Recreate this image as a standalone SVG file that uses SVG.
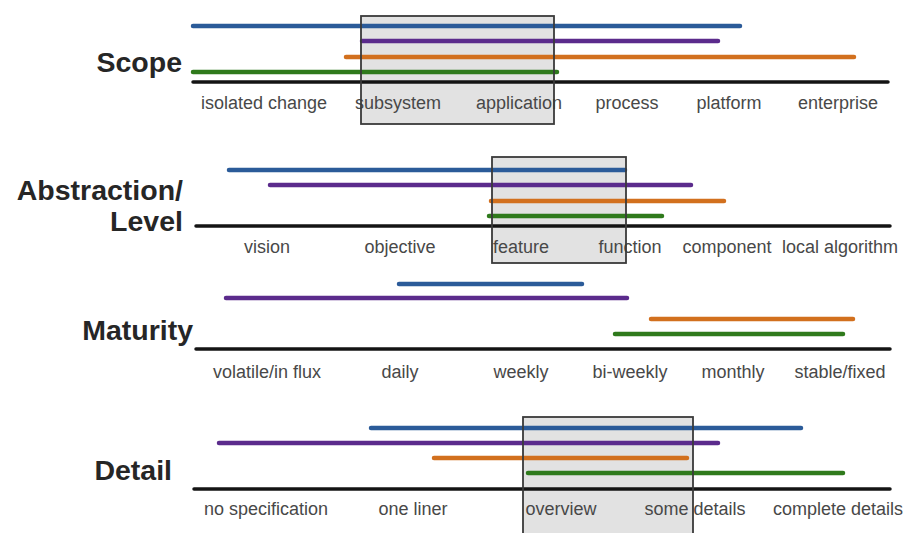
<svg xmlns="http://www.w3.org/2000/svg" width="906" height="533" viewBox="0 0 906 533">
<style>
.t{font-family:"Liberation Sans",Arial,sans-serif;font-weight:bold;font-size:28.5px;fill:#262626;text-anchor:end}
.l{font-family:"Liberation Sans",Arial,sans-serif;font-size:18px;fill:#484848;text-anchor:middle}
.ax{stroke:#141414;stroke-width:3.5;stroke-linecap:round}
.b{stroke:#2b5b99;stroke-width:4.5;stroke-linecap:round}
.p{stroke:#5b2b8c;stroke-width:4.5;stroke-linecap:round}
.o{stroke:#d2701e;stroke-width:4.5;stroke-linecap:round}
.g{stroke:#2f7a1c;stroke-width:4.5;stroke-linecap:round}
.bf{fill:#e2e2e2}
.bs{fill:none;stroke:#3a3a3a;stroke-width:1.8}
</style>
<rect width="906" height="533" fill="#fff"/>
<g id="scope">
<rect class="bf" x="361" y="16" width="193" height="108"/>
<text class="t" x="182" y="72">Scope</text>
<line class="b" x1="193" y1="26" x2="740" y2="26"/>
<line class="p" x1="362" y1="41" x2="718" y2="41"/>
<line class="o" x1="346" y1="57" x2="854" y2="57"/>
<line class="g" x1="193" y1="72" x2="557" y2="72"/>
<line class="ax" x1="193" y1="82" x2="888" y2="82"/>
<text class="l" x="264" y="109">isolated change</text>
<text class="l" x="398" y="109">subsystem</text>
<text class="l" x="519" y="109">application</text>
<text class="l" x="627" y="109">process</text>
<text class="l" x="729" y="109">platform</text>
<text class="l" x="838" y="109">enterprise</text>
<rect class="bs" x="361" y="16" width="193" height="108"/>
</g>
<g id="abstraction">
<rect class="bf" x="492" y="157" width="134" height="106"/>
<text class="t" x="183" y="200">Abstraction/</text>
<text class="t" x="183" y="231">Level</text>
<line class="b" x1="229" y1="170" x2="625" y2="170"/>
<line class="p" x1="270" y1="185" x2="691" y2="185"/>
<line class="o" x1="491" y1="201" x2="724" y2="201"/>
<line class="g" x1="489" y1="216" x2="662" y2="216"/>
<line class="ax" x1="196" y1="226" x2="890" y2="226"/>
<text class="l" x="267" y="253">vision</text>
<text class="l" x="400" y="253">objective</text>
<text class="l" x="521" y="253">feature</text>
<text class="l" x="630" y="253">function</text>
<text class="l" x="727" y="253">component</text>
<text class="l" x="840" y="253">local algorithm</text>
<rect class="bs" x="492" y="157" width="134" height="106"/>
</g>
<g id="maturity">
<text class="t" x="193" y="340">Maturity</text>
<line class="b" x1="399" y1="284" x2="582" y2="284"/>
<line class="p" x1="226" y1="298" x2="627" y2="298"/>
<line class="o" x1="651" y1="319" x2="853" y2="319"/>
<line class="g" x1="615" y1="334" x2="843" y2="334"/>
<line class="ax" x1="196" y1="349" x2="890" y2="349"/>
<text class="l" x="267" y="378">volatile/in flux</text>
<text class="l" x="400" y="378">daily</text>
<text class="l" x="521" y="378">weekly</text>
<text class="l" x="630" y="378">bi-weekly</text>
<text class="l" x="733" y="378">monthly</text>
<text class="l" x="840" y="378">stable/fixed</text>
</g>
<g id="detail">
<rect class="bf" x="523" y="417" width="170" height="120"/>
<text class="t" x="172" y="480">Detail</text>
<line class="b" x1="371" y1="428" x2="801" y2="428"/>
<line class="p" x1="219" y1="443" x2="718" y2="443"/>
<line class="o" x1="434" y1="458" x2="687" y2="458"/>
<line class="g" x1="528" y1="473" x2="843" y2="473"/>
<line class="ax" x1="194" y1="489" x2="890" y2="489"/>
<text class="l" x="266" y="515">no specification</text>
<text class="l" x="413" y="515">one liner</text>
<text class="l" x="561" y="515">overview</text>
<text class="l" x="695" y="515">some details</text>
<text class="l" x="838" y="515">complete details</text>
<rect class="bs" x="523" y="417" width="170" height="120"/>
</g>
</svg>
